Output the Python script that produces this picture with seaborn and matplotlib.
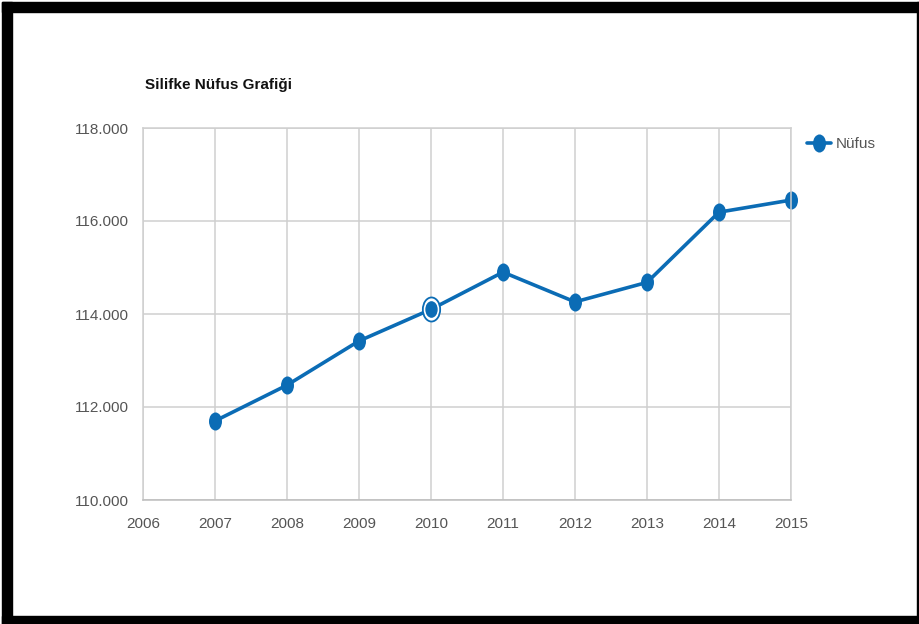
import matplotlib
matplotlib.use("Agg")
import matplotlib.pyplot as plt
import matplotlib.ticker as mticker
from matplotlib.patches import Rectangle
from matplotlib.path import Path
import matplotlib.transforms as mtransforms
import seaborn as sns
import pandas as pd

years = [2007, 2008, 2009, 2010, 2011, 2012, 2013, 2014, 2015]
population = [111700, 112470, 113420, 114100, 114900, 114260, 114680, 116190, 116450]
series_name = "Nüfus"
title = "Silifke Nüfus Grafiği"
highlight_year = 2010

df = pd.DataFrame({"Yıl": years, series_name: population})

sns.set_theme(style="white")
plt.rcParams['font.family'] = ['Liberation Sans Narrow', 'Liberation Sans', 'DejaVu Sans']

W, H = 920, 624
fig = plt.figure(figsize=(W / 100, H / 100), dpi=100)
fig.patch.set_facecolor("white")
ax = fig.add_axes([143 / W, 1 - 500 / H, (791 - 143) / W, (500 - 128) / H])

blue = "#0b6cb5"
# elliptical (vertically stretched) marker
ell = Path.unit_circle().transformed(mtransforms.Affine2D().scale(0.72, 1.0))

sns.lineplot(data=df, x="Yıl", y=series_name, ax=ax, color=blue, linewidth=2.6,
             marker=ell, markersize=13, markeredgewidth=0, label=series_name,
             clip_on=False)

# highlighted (hovered) point ring
hl = df[df["Yıl"] == highlight_year]
ax.scatter(hl["Yıl"], hl[series_name], s=300, marker=ell, facecolor="white",
           edgecolor=blue, linewidth=1.3, zorder=4)
ax.scatter(hl["Yıl"], hl[series_name], s=120, marker=ell, color=blue, zorder=5)

ax.set_xlim(2006, 2015)
ax.set_ylim(110000, 118000)
ax.set_xticks(range(2006, 2016))
ax.set_yticks(range(110000, 118001, 2000))
ax.yaxis.set_major_formatter(mticker.FuncFormatter(lambda v, p: f"{int(v):,}".replace(",", ".")))
ax.grid(True, color="#cfcfcf", linewidth=1.1)
for s in ax.spines.values():
    s.set_visible(True)
    s.set_color("#cfcfcf")
    s.set_linewidth(1.1)
ax.spines["bottom"].set_color("#bdbdbd")
ax.tick_params(axis="both", length=0, labelsize=11, colors="#555555")
ax.tick_params(axis="x", pad=12)
ax.tick_params(axis="y", pad=10)
ax.set_xlabel("")
ax.set_ylabel("")

leg = ax.legend(loc="upper left", bbox_to_anchor=(1.01, 1.0), frameon=False,
                fontsize=11, handlelength=1.6, handletextpad=0.3, borderaxespad=0.2)
for t in leg.get_texts():
    t.set_color("#555555")

fig.text(145 / W, 1 - 85 / H, title, fontsize=11, fontweight="bold",
         color="#111111", va="center", ha="left")

# black frame
def rect(x0, y0, x1, y1):
    fig.patches.append(Rectangle((x0 / W, 1 - y1 / H), (x1 - x0) / W, (y1 - y0) / H,
                                 transform=fig.transFigure, color="black", zorder=10))
rect(2, 2, 920, 12)
rect(2, 2, 12, 624)
rect(2, 616, 920, 624)
rect(917, 2, 920, 624)

fig.savefig("out.png", dpi=100)
